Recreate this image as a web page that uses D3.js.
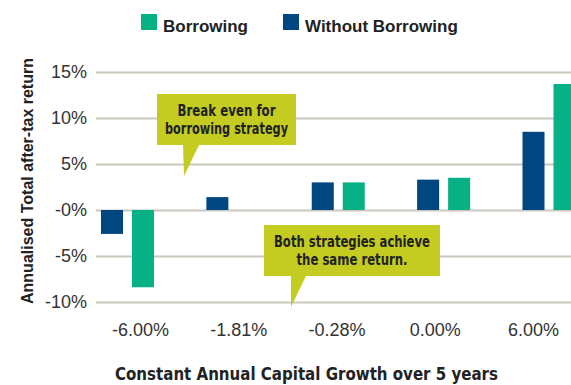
<!DOCTYPE html>
<meta charset="utf-8">
<style>
body { margin: 0; background: #fff; }
.tick text { font-family: "Liberation Sans", Arial, sans-serif; }
.narrow { font-family: "Liberation Sans Narrow", "DejaVu Sans Condensed", "DejaVu Sans", sans-serif; font-weight: bold; font-stretch: condensed; }
</style>
<body>
<svg id="chart" width="571" height="385"></svg>
</body>
<script src="https://d3js.org/d3.v7.min.js"></script>
<script>

// data
var categories = ["-6.00%", "-1.81%", "-0.28%", "0.00%", "6.00%"];
var borrowing = [-8.4, 0, 3.0, 3.5, 13.7];
var withoutBorrowing = [-2.6, 1.4, 3.0, 3.3, 8.5];
var seriesNames = ["Without Borrowing", "Borrowing"];
var legendOrder = ["Borrowing", "Without Borrowing"];
var yTicks = [-10, -5, 0, 5, 10, 15];

var colors = {"Borrowing": "#06b186", "Without Borrowing": "#004680"};
var calloutFill = "#c4cc22";

var svg = d3.select("#chart");

var y = d3.scaleLinear().domain([-10, 15]).range([302, 72]);

// bar groups
var x = d3.scalePoint().domain(categories).range([127.5, 549]);
var x1 = d3.scaleBand().domain(seriesNames).range([-26.5, 26.5]).paddingInner(0.29);

// tick labels sit on a slightly tighter spacing than the bars
var xLab = d3.scalePoint().domain(categories).range([140, 533]);

// y axis + gridlines
var yAxis = svg.append("g")
    .attr("transform", "translate(96,0)")
    .call(d3.axisLeft(y)
      .tickValues(yTicks)
      .tickSize(-475)
      .tickPadding(9)
      .tickFormat(function(d) { return d === 0 ? "-0%" : d + "%"; }));
yAxis.select(".domain").remove();
yAxis.selectAll(".tick line").attr("stroke", "#cac7be").attr("stroke-width", 2);
yAxis.selectAll(".tick text").attr("fill", "#333").style("font-size", "18px");

// x axis labels
var xAxis = svg.append("g")
    .attr("transform", "translate(0,302)")
    .call(d3.axisBottom(xLab).tickSize(0).tickPadding(21));
xAxis.select(".domain").remove();
xAxis.selectAll(".tick text").attr("fill", "#333").style("font-size", "18px");

// bars
var rows = categories.map(function(c, i) {
  return {cat: c, "Borrowing": borrowing[i], "Without Borrowing": withoutBorrowing[i]};
});

svg.append("g").selectAll("g")
  .data(rows)
  .enter().append("g")
    .attr("transform", function(d) { return "translate(" + x(d.cat) + ",0)"; })
  .selectAll("rect")
  .data(function(d) { return seriesNames.map(function(k) { return {key: k, value: d[k]}; }); })
  .enter().append("rect")
    .attr("x", function(d) { return x1(d.key); })
    .attr("width", x1.bandwidth())
    .attr("y", function(d) { return y(Math.max(0, d.value)); })
    .attr("height", function(d) { return Math.abs(y(d.value) - y(0)); })
    .attr("fill", function(d) { return colors[d.key]; });

// legend
var legend = svg.append("g").selectAll("g")
  .data(legendOrder)
  .enter().append("g")
    .attr("transform", function(d, i) { return "translate(" + [141, 283][i] + ",14)"; });
legend.append("rect")
    .attr("width", 16).attr("height", 16)
    .attr("fill", function(d) { return colors[d]; });
legend.append("text")
    .attr("x", 22).attr("y", 18)
    .style("font", "bold 17px 'Liberation Sans', Arial, sans-serif")
    .attr("fill", "#222")
    .text(function(d) { return d; });

// axis titles
svg.append("text")
    .attr("transform", "translate(33,181) rotate(-90)")
    .attr("text-anchor", "middle")
    .style("font", "bold 16px 'Liberation Sans', Arial, sans-serif")
    .attr("fill", "#222")
    .text("Annualised Total after-tax return");

// condensed text: squeeze to the widths seen in the reference
svg.append("text")
    .attr("class", "narrow")
    .attr("x", 306.5).attr("y", 380)
    .attr("text-anchor", "middle")
    .attr("textLength", 383)
    .attr("lengthAdjust", "spacingAndGlyphs")
    .style("font-size", "18px")
    .attr("fill", "#222")
    .text("Constant Annual Capital Growth over 5 years");

// callouts
var callouts = [
  {box: [157, 94, 296, 145], tip: [183, 199, 184, 176], lines: ["Break even for", "borrowing strategy"], widths: [98, 123]},
  {box: [264, 225, 440, 276], tip: [291, 306, 291, 307], lines: ["Both strategies achieve", "the same return."], widths: [156, 111]}
];

callouts.forEach(function(c) {
  var b = c.box, t = c.tip;
  var pts = [[b[0], b[1]], [b[2], b[1]], [b[2], b[3]], [t[1], b[3]], [t[2], t[3]], [t[0], b[3]], [b[0], b[3]]];
  svg.append("path")
      .attr("d", d3.line()(pts) + "Z")
      .attr("fill", calloutFill);
  var cx = (b[0] + b[2]) / 2;
  c.lines.forEach(function(l, i) {
    svg.append("text")
        .attr("class", "narrow")
        .attr("x", cx).attr("y", b[1] + 22 + i * 18)
        .attr("text-anchor", "middle")
        .attr("textLength", c.widths[i])
        .attr("lengthAdjust", "spacingAndGlyphs")
        .style("font-size", "15px")
        .attr("fill", "#222")
        .text(l);
  });
});

</script>
